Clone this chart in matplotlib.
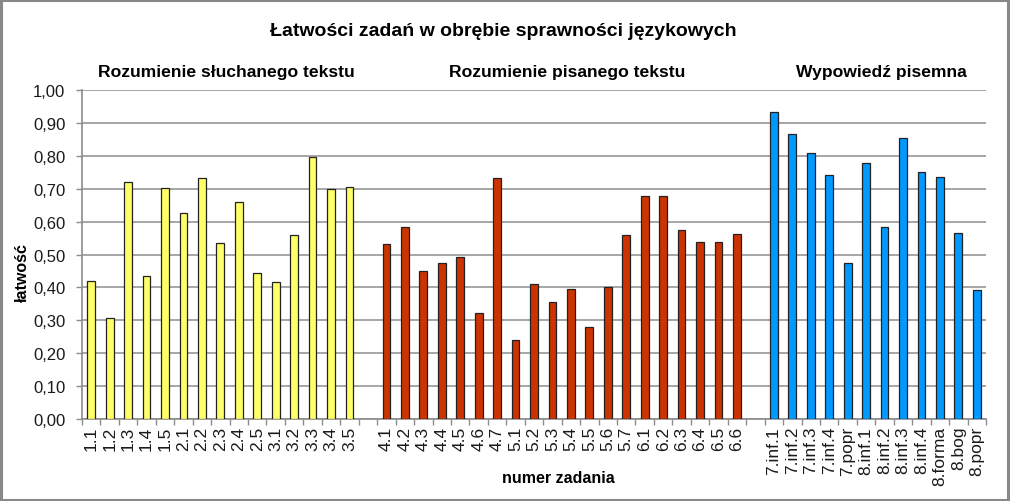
import matplotlib
matplotlib.use("Agg")
import matplotlib.pyplot as plt
import matplotlib.transforms as mtransforms
from matplotlib.patches import Rectangle
import numpy as np

plt.rcParams['font.family'] = ['Liberation Sans', 'DejaVu Sans']

title = "Łatwości zadań w obrębie sprawności językowych"
group_names = ["Rozumienie słuchanego tekstu", "Rozumienie pisanego tekstu", "Wypowiedź pisemna"]

labels_listen = ["1.1", "1.2", "1.3", "1.4", "1.5", "2.1", "2.2", "2.3", "2.4", "2.5",
                 "3.1", "3.2", "3.3", "3.4", "3.5"]
values_listen = [0.420, 0.308, 0.720, 0.436, 0.702, 0.625, 0.733, 0.536, 0.661, 0.444,
                 0.415, 0.558, 0.797, 0.699, 0.704]

labels_read = ["4.1", "4.2", "4.3", "4.4", "4.5", "4.6", "4.7", "5.1", "5.2", "5.3",
               "5.4", "5.5", "5.6", "5.7", "6.1", "6.2", "6.3", "6.4", "6.5", "6.6"]
values_read = [0.533, 0.585, 0.451, 0.474, 0.491, 0.323, 0.733, 0.239, 0.410, 0.357,
               0.394, 0.280, 0.402, 0.558, 0.677, 0.679, 0.573, 0.538, 0.538, 0.561]

labels_write = ["7.inf.1", "7.inf.2", "7.inf.3", "7.inf.4", "7.popr", "8.inf.1", "8.inf.2",
                "8.inf.3", "8.inf.4", "8.forma", "8.bog", "8.popr"]
values_write = [0.932, 0.866, 0.807, 0.743, 0.474, 0.779, 0.583, 0.855, 0.751, 0.736,
                0.564, 0.392]

colors = ["#FFFF66", "#CC3300", "#0099FF"]
yticks = [0.0, 0.1, 0.2, 0.3, 0.4, 0.5, 0.6, 0.7, 0.8, 0.9, 1.0]

W, H = 1010, 502
fig = plt.figure(figsize=(W / 100, H / 100), dpi=100)
ax = fig.add_axes([82 / W, (H - 420) / H, (986 - 82) / W, (420 - 91) / H])

groups = [(labels_listen, values_listen), (labels_read, values_read), (labels_write, values_write)]
all_labels = []
pos = 0
group_spans = []
for gi, (labs, vals) in enumerate(groups):
    x = np.arange(pos, pos + len(labs))
    ax.bar(x, vals, width=0.42, color=colors[gi], edgecolor="#222222", linewidth=0.9, zorder=3)
    group_spans.append((x[0], x[-1]))
    all_labels.extend([(p, l) for p, l in zip(x, labs)])
    pos += len(labs) + 1
n_slots = pos - 1

ax.set_xlim(-0.5, n_slots - 0.5)
ax.set_ylim(0, 1.0)
ax.set_yticks(yticks)
ax.set_yticklabels([f"{v:.2f}".replace(".", ",") for v in yticks], fontsize=12, color="#1a1a1a")
ax.yaxis.grid(True, color="#a6a6a6", linewidth=1.4, zorder=0)
ax.set_axisbelow(True)

ax.set_xticks([p for p, _ in all_labels])
ax.set_xticklabels([l for _, l in all_labels], rotation=90, fontsize=12.5, color="#1a1a1a")
ax.tick_params(axis='x', which='major', length=0, pad=5)
ax.set_xticks(np.arange(-0.5, n_slots, 1.0), minor=True)
ax.tick_params(axis='x', which='minor', length=4, color="#8c8c8c", width=1)
ax.tick_params(axis='y', length=4, color="#8c8c8c", width=1, pad=8)

for side in ["top", "right"]:
    ax.spines[side].set_visible(False)
for side in ["left", "bottom"]:
    ax.spines[side].set_color("#8c8c8c")
    ax.spines[side].set_linewidth(1.2)

fig.text(503 / W, 1 - 32 / H, title, ha="center", va="center", fontsize=14, fontweight="bold")
trans = mtransforms.blended_transform_factory(ax.transData, fig.transFigure)
offs = [0.35, 0.3, 0.35]
for (a, b), name, o in zip(group_spans, group_names, offs):
    ax.text((a + b) / 2 + o, 1 - 73 / H, name, transform=trans, ha="center", va="center",
            fontsize=12.6, fontweight="bold")

fig.text(558 / W, 1 - 479 / H, "numer zadania", ha="center", va="center", fontsize=11.5, fontweight="bold")
fig.text(22 / W, 1 - 273 / H, "łatwość", ha="center", va="center", rotation=90, fontsize=11.5, fontweight="bold")

fig.patches.append(Rectangle((0.001, 0.002), 0.997, 0.996, transform=fig.transFigure,
                             fill=False, edgecolor="#888888", linewidth=2.2))

fig.savefig("out.png", dpi=100)
